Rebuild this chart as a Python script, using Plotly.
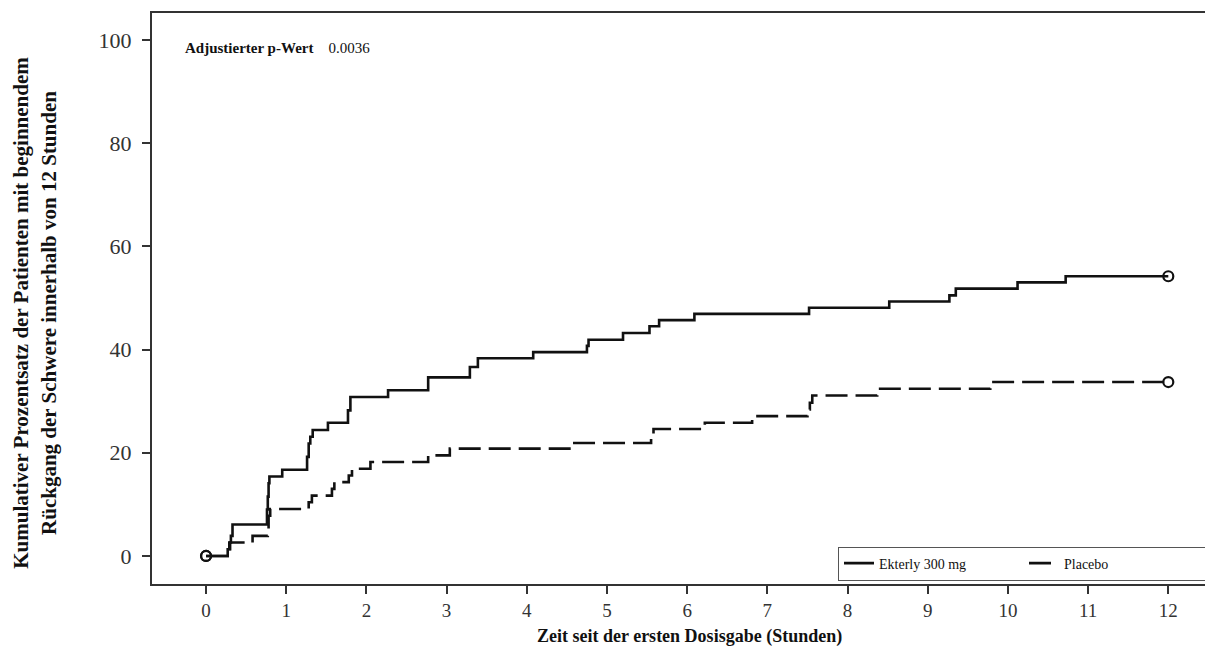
import plotly.graph_objects as go

# Ekterly 300 mg (solid) - step times (hours) and cumulative percentage
ekterly_t = [0, 0.27, 0.29, 0.31, 0.33, 0.76, 0.77, 0.78, 0.79, 0.95,
             1.26, 1.28, 1.30, 1.33, 1.52, 1.77, 1.80, 2.27, 2.77, 3.29,
             3.39, 4.08, 4.75, 4.77, 5.20, 5.53, 5.65, 6.09, 7.52, 8.52,
             9.27, 9.35, 10.12, 10.72, 12.0]
ekterly_p = [0, 1.3, 2.6, 3.9, 6.1, 9.0, 11.5, 14.1, 15.4, 16.7,
             19.2, 21.8, 23.1, 24.4, 25.8, 28.2, 30.8, 32.1, 34.6, 36.6,
             38.3, 39.5, 40.7, 41.9, 43.2, 44.5, 45.7, 46.9, 48.1, 49.3,
             50.5, 51.8, 53.0, 54.2, 54.2]

# Placebo (dashed)
placebo_t = [0, 0.27, 0.30, 0.58, 0.77, 0.78, 0.80, 1.28, 1.32, 1.57,
             1.60, 1.78, 1.82, 2.05, 2.77, 3.04, 4.55, 5.55, 5.58, 6.22,
             6.81, 7.50, 7.53, 7.56, 8.37, 9.78, 12.0]
placebo_p = [0, 1.3, 2.6, 3.9, 5.2, 7.8, 9.1, 10.4, 11.7, 13.0,
             14.3, 15.6, 16.9, 18.2, 19.5, 20.8, 21.9, 23.3, 24.6, 25.8,
             27.1, 28.4, 29.7, 31.1, 32.4, 33.7, 33.7]

x_ticks = list(range(0, 13))
y_ticks = [0, 20, 40, 60, 80, 100]

series_names = ["Ekterly 300 mg", "Placebo"]
p_label = "Adjustierter p-Wert"
p_value = "0.0036"
x_title = "Zeit seit der ersten Dosisgabe (Stunden)"
y_title = ("Kumulativer Prozentsatz der Patienten mit beginnendem<br>"
           "Rückgang der Schwere innerhalb von 12 Stunden")

FONT = "Liberation Serif"
INK = "#111111"
AXIS = "#333333"

fig = go.Figure()

fig.add_trace(go.Scatter(
    x=ekterly_t, y=ekterly_p, mode="lines", line_shape="hv",
    name=series_names[0], line=dict(color=INK, width=2.6)))
fig.add_trace(go.Scatter(
    x=placebo_t, y=placebo_p, mode="lines", line_shape="hv",
    name=series_names[1], line=dict(color=INK, width=2.6, dash="22px,8px")))

# censoring / endpoint markers
for t, p in ((ekterly_t, ekterly_p), (placebo_t, placebo_p)):
    fig.add_trace(go.Scatter(
        x=[t[0], t[-1]], y=[p[0], p[-1]], mode="markers", showlegend=False,
        hoverinfo="skip",
        marker=dict(symbol="circle-open", size=10, color=INK,
                    line=dict(width=2.2, color=INK))))

fig.add_annotation(
    xref="paper", yref="paper", x=0.029, y=0.939, xanchor="left", yanchor="middle",
    text=f"<b>{p_label}</b>&nbsp;&nbsp;&nbsp;&nbsp;{p_value}", showarrow=False,
    font=dict(family=FONT, size=15, color=INK))

# axis titles
fig.add_annotation(
    xref="paper", yref="paper", x=0.5076, y=-0.0928, xanchor="center", yanchor="middle",
    text=f"<b>{x_title}</b>", showarrow=False,
    font=dict(family=FONT, size=18, color=INK))
fig.add_annotation(
    xref="paper", yref="paper", x=-0.1106, y=0.475, xanchor="center", yanchor="middle",
    text=f"<b>{y_title}</b>", showarrow=False, textangle=-90,
    font=dict(family=FONT, size=21, color=INK))

# page body has an 8px margin, so the figure is sized/positioned to compensate
fig.update_layout(
    width=1205, height=653,
    margin=dict(l=144, r=3, t=5, b=77, autoexpand=False),
    paper_bgcolor="white", plot_bgcolor="white",
    font=dict(family=FONT, color=INK),
    showlegend=True,
    legend=dict(orientation="h", xanchor="right", x=1.0, yanchor="bottom", y=0.006,
                bgcolor="white", bordercolor="#555555", borderwidth=1,
                font=dict(family=FONT, size=14, color=INK),
                entrywidth=140, tracegroupgap=0),
    xaxis=dict(
        range=[-0.674, 12.52], tickmode="array", tickvals=x_ticks,
        ticks="outside", ticklen=8, tickwidth=1.5, tickcolor=AXIS,
        showline=True, linecolor=AXIS, linewidth=2, mirror=True,
        showgrid=False, zeroline=False, automargin=False,
        tickfont=dict(family=FONT, size=19, color=AXIS)),
    yaxis=dict(
        range=[-5.43, 105.2], tickmode="array", tickvals=y_ticks,
        ticks="outside", ticklen=8, tickwidth=1.5, tickcolor=AXIS,
        showline=True, linecolor=AXIS, linewidth=2, mirror=True,
        showgrid=False, zeroline=False, automargin=False,
        ticklabelstandoff=6,
        tickfont=dict(family=FONT, size=22, color=AXIS)),
)

fig.write_html("out.html")
